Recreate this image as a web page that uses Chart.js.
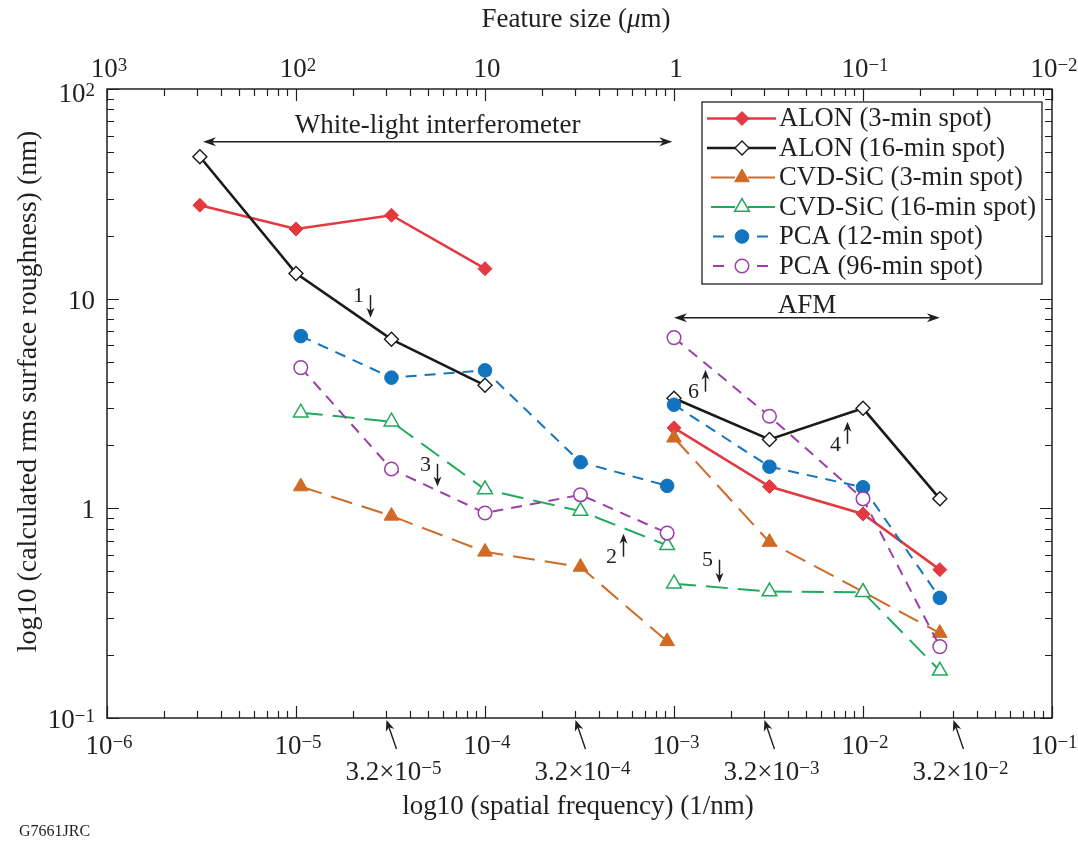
<!DOCTYPE html>
<html>
<head>
<meta charset="utf-8">
<title>RMS roughness vs spatial frequency</title>
<script src="https://cdn.jsdelivr.net/npm/chart.js@4/dist/chart.umd.min.js"></script>
<style>
  html, body { margin: 0; padding: 0; background: #fff; }
  #roughCanvas { display: block; }
</style>
</head>
<body>
<canvas id="roughCanvas" width="1078" height="842" style="width:1078px;height:842px"></canvas>
<script>
// spatial frequency (1/nm); a null splits the interferometer and AFM groups
const alonFreq  = [3.1e-6, 1.0e-5, 3.2e-5, 1.0e-4, null, 1.0e-3, 3.2e-3, 1.0e-2, 2.55e-2];
const alon3Rms  = [27.9, 21.5, 25.0, 13.9, null, 2.42, 1.27, 0.94, 0.51];
const alon16Rms = [47.5, 13.2, 6.4, 3.86, null, 3.35, 2.13, 3.0, 1.11];

const mixFreq   = [1.06e-5, 3.2e-5, 1.0e-4, 3.2e-4, 9.2e-4, null, 1.0e-3, 3.2e-3, 1.0e-2, 2.55e-2];
const sic3Rms   = [1.27, 0.92, 0.62, 0.525, 0.232, null, 2.17, 0.69, 0.40, 0.254];
const sic16Rms  = [2.86, 2.59, 1.23, 0.97, 0.666, null, 0.437, 0.401, 0.398, 0.168];
const pca12Rms  = [6.63, 4.2, 4.55, 1.66, 1.28, null, 3.12, 1.58, 1.26, 0.374];
const pca96Rms  = [4.69, 1.54, 0.95, 1.16, 0.762, null, 6.52, 2.75, 1.11, 0.219];

// axis labels: [mantissa, superscript]
const freqLabels    = [['10', '\u22126'], ['10', '\u22125'], ['10', '\u22124'], ['10', '\u22123'], ['10', '\u22122'], ['10', '\u22121']];
const freqLabelVals = [1e-6, 1e-5, 1e-4, 1e-3, 1e-2, 1e-1];
const featureLabels = [['10', '3'], ['10', '2'], ['10', ''], ['1', ''], ['10', '\u22121'], ['10', '\u22122']];
const rmsLabels     = [['10', '\u22121'], ['1', ''], ['10', ''], ['10', '2']];
const rmsLabelVals  = [0.1, 1, 10, 100];

// half-decade markers below the frequency axis
const markedFreqs  = [3.2e-5, 3.2e-4, 3.2e-3, 3.2e-2];
const markedLabels = [['3.2\u00d710', '\u22125'], ['3.2\u00d710', '\u22124'], ['3.2\u00d710', '\u22123'], ['3.2\u00d710', '\u22122']];

// instrument ranges (double arrows)
const rangeNames = ['White-light interferometer', 'AFM'];
const rangeFrom  = [3.22e-6, 1.0e-3];
const rangeTo    = [9.8e-4, 2.55e-2];
const rangeRms   = [56, 8.1];

// numbered pointers: frequency, tail and tip roughness
const noteNums  = ['1', '2', '3', '4', '5', '6'];
const noteFreq  = [2.46e-5, 5.37e-4, 5.57e-5, 8.22e-3, 1.73e-3, 1.46e-3];
const noteTail  = [10.4, 0.588, 1.63, 2.03, 0.569, 3.60];
const noteTip   = [8.11, 0.757, 1.27, 2.59, 0.442, 4.58];

const INK = '#231f20';
const SERIF = '"Liberation Serif", "DejaVu Serif", serif';
const FONT = '27px ' + SERIF;
const LEGENDFONT = '26.6px ' + SERIF;
const TICKFONT = '27px ' + SERIF;
const SUP = '19px ' + SERIF;

function series(label, freq, rms, style) {
  return Object.assign({
    label: label,
    data: freq.map((f, i) => ({ x: f, y: rms[i] })),
    spanGaps: false,
    fill: false,
    tension: 0
  }, style);
}

const datasets = [
  series('ALON (3-min spot)', alonFreq, alon3Rms, {
    borderColor: '#e23a40', borderWidth: 2.6, pointStyle: 'rectRot', pointRadius: 7,
    pointBackgroundColor: '#e23a40', pointBorderColor: '#e23a40', pointBorderWidth: 1
  }),
  series('ALON (16-min spot)', alonFreq, alon16Rms, {
    borderColor: '#1a1a1a', borderWidth: 2.6, pointStyle: 'rectRot', pointRadius: 7,
    pointBackgroundColor: '#ffffff', pointBorderColor: '#1a1a1a', pointBorderWidth: 1.4
  }),
  series('CVD-SiC (3-min spot)', mixFreq, sic3Rms, {
    borderColor: '#cf6b25', borderWidth: 2, borderDash: [22, 10], pointStyle: 'triangle', pointRadius: 8.5,
    pointBackgroundColor: '#cf6b25', pointBorderColor: '#cf6b25', pointBorderWidth: 1
  }),
  series('CVD-SiC (16-min spot)', mixFreq, sic16Rms, {
    borderColor: '#22a95b', borderWidth: 2, borderDash: [22, 10], pointStyle: 'triangle', pointRadius: 8.5,
    pointBackgroundColor: '#ffffff', pointBorderColor: '#22a95b', pointBorderWidth: 1.5
  }),
  series('PCA (12-min spot)', mixFreq, pca12Rms, {
    borderColor: '#1274bf', borderWidth: 2, borderDash: [11, 8], pointStyle: 'circle', pointRadius: 6.8,
    pointBackgroundColor: '#1274bf', pointBorderColor: '#1274bf', pointBorderWidth: 1
  }),
  series('PCA (96-min spot)', mixFreq, pca96Rms, {
    borderColor: '#9a3fa6', borderWidth: 2, borderDash: [11, 8], pointStyle: 'circle', pointRadius: 6.8,
    pointBackgroundColor: '#ffffff', pointBorderColor: '#9a3fa6', pointBorderWidth: 1.5
  })
];
// later series sit on top
datasets.forEach((d, i) => { d.order = datasets.length - i; });

// legend sample segments around the marker
const legendSegs = [
  [[-35, 34]], [[-35, 34]],
  [[-31, -7], [6, 33]], [[-31, -7], [6, 33]],
  [[-29, -18], [15, 26]], [[-29, -18], [15, 26]]
];

function logTicks(min, max) {
  const out = [];
  for (let e = Math.round(Math.log10(min)); e < Math.round(Math.log10(max)) + 1; e++) {
    for (let k = 1; k <= 9; k++) {
      const v = k * Math.pow(10, e);
      if (v < min * 0.9999 || v > max * 1.0001) continue;
      out.push({ v: v, major: k === 1 });
    }
  }
  return out;
}

// mantissa + superscript, cy is the mantissa baseline
function drawPower(ctx, pair, cx, cy, align, font, sup, lift) {
  ctx.font = font;
  const wb = ctx.measureText(pair[0]).width;
  ctx.font = sup;
  const we = pair[1] ? ctx.measureText(pair[1]).width : 0;
  const total = wb + we;
  const left = align === 'right' ? cx - total : (align === 'left' ? cx : cx - total / 2);
  ctx.textAlign = 'left';
  ctx.textBaseline = 'alphabetic';
  ctx.font = font;
  ctx.fillText(pair[0], left, cy);
  if (pair[1]) {
    ctx.font = sup;
    ctx.fillText(pair[1], left + wb, cy - lift);
  }
}

function arrowHead(ctx, x1, y1, x2, y2, len, half) {
  const ang = Math.atan2(y2 - y1, x2 - x1);
  const c = Math.cos(ang), s = Math.sin(ang);
  ctx.beginPath();
  ctx.moveTo(x2, y2);
  ctx.lineTo(x2 - len * c + half * s, y2 - len * s - half * c);
  ctx.lineTo(x2 - len * 0.7 * c, y2 - len * 0.7 * s);
  ctx.lineTo(x2 - len * c - half * s, y2 - len * s + half * c);
  ctx.closePath();
  ctx.fill();
}

function arrow(ctx, x1, y1, x2, y2, len, half, both) {
  const ang = Math.atan2(y2 - y1, x2 - x1);
  ctx.beginPath();
  ctx.moveTo(both ? x1 + Math.cos(ang) * len * 0.6 : x1, both ? y1 + Math.sin(ang) * len * 0.6 : y1);
  ctx.lineTo(x2 - Math.cos(ang) * len * 0.6, y2 - Math.sin(ang) * len * 0.6);
  ctx.stroke();
  arrowHead(ctx, x1, y1, x2, y2, len, half);
  if (both) arrowHead(ctx, x2, y2, x1, y1, len, half);
}

const figureDecor = {
  id: 'figureDecor',
  afterDraw(chart) {
    const ctx = chart.ctx;
    const a = chart.chartArea;
    const xs = chart.scales.x, ys = chart.scales.y;
    ctx.save();
    ctx.strokeStyle = INK;
    ctx.fillStyle = INK;

    // frame
    ctx.lineWidth = 1.5;
    ctx.strokeRect(a.left, a.top, a.right - a.left, a.bottom - a.top);

    // inward ticks on all four sides
    ctx.lineWidth = 1.2;
    ctx.beginPath();
    logTicks(xs.min, xs.max).forEach(t => {
      const px = Math.round(xs.getPixelForValue(t.v)) + 0.5;
      const len = t.major ? 12 : 7;
      ctx.moveTo(px, a.bottom); ctx.lineTo(px, a.bottom - len);
      ctx.moveTo(px, a.top); ctx.lineTo(px, a.top + len);
    });
    logTicks(ys.min, ys.max).forEach(t => {
      const py = Math.round(ys.getPixelForValue(t.v)) + 0.5;
      const len = t.major ? 12 : 7;
      ctx.moveTo(a.left, py); ctx.lineTo(a.left + len, py);
      ctx.moveTo(a.right, py); ctx.lineTo(a.right - len, py);
    });
    ctx.stroke();

    // tick labels
    freqLabels.forEach((p, i) => {
      const px = xs.getPixelForValue(freqLabelVals[i]);
      drawPower(ctx, p, px + 2, a.bottom + 36, 'center', TICKFONT, SUP, 6);
      drawPower(ctx, featureLabels[i], px + 2, a.top - 12, 'center', TICKFONT, SUP, 6);
    });
    rmsLabels.forEach((p, i) => {
      const py = ys.getPixelForValue(rmsLabelVals[i]);
      drawPower(ctx, p, a.left - 12, py + (i === rmsLabels.length - 1 ? 13 : 10), 'right', TICKFONT, SUP, 6);
    });

    // half-decade pointers under the axis
    ctx.lineWidth = 1.4;
    markedFreqs.forEach((f, i) => {
      const px = xs.getPixelForValue(f);
      arrow(ctx, px + 5, a.bottom + 31, px - 5, a.bottom + 2, 11, 4.5, false);
      drawPower(ctx, markedLabels[i], px + 2, a.bottom + 62, 'center', TICKFONT, SUP, 6);
    });

    // instrument ranges
    rangeNames.forEach((name, i) => {
      const x1 = xs.getPixelForValue(rangeFrom[i]);
      const x2 = xs.getPixelForValue(rangeTo[i]);
      const py = ys.getPixelForValue(rangeRms[i]);
      ctx.lineWidth = 1.5;
      arrow(ctx, x1, py, x2, py, 13, 4.5, true);
      ctx.font = FONT;
      ctx.textAlign = 'center';
      ctx.textBaseline = 'alphabetic';
      ctx.fillText(name, (x1 + x2) / 2, py - (i === 0 ? 9 : 5));
    });

    // numbered pointers
    noteNums.forEach((n, i) => {
      const px = Math.round(xs.getPixelForValue(noteFreq[i])) + 0.5;
      const tail = ys.getPixelForValue(noteTail[i]);
      const tip = ys.getPixelForValue(noteTip[i]);
      ctx.lineWidth = 1.5;
      arrow(ctx, px, tail, px, tip, 10, 4, false);
      ctx.font = '22px ' + SERIF;
      ctx.textAlign = 'center';
      ctx.textBaseline = 'middle';
      ctx.fillText(n, px - 12, tail + 1);
    });

    // axis titles
    ctx.font = FONT;
    ctx.textAlign = 'center';
    ctx.textBaseline = 'alphabetic';
    ctx.fillText('log10 (spatial frequency) (1/nm)', 578, 814);
    ctx.save();
    ctx.translate(36, (a.top + a.bottom) / 2 - 12);
    ctx.rotate(-Math.PI / 2);
    ctx.font = '28px ' + SERIF;
    ctx.fillText('log10 (calculated rms surface roughness) (nm)', 0, 0);
    ctx.restore();

    // top title with italic mu
    const parts = [['Feature size (', FONT], ['\u03bc', 'italic ' + FONT], ['m)', FONT]];
    let tw = 0;
    parts.forEach(p => { ctx.font = p[1]; tw += ctx.measureText(p[0]).width; });
    let tx = 576 - tw / 2;
    ctx.textAlign = 'left';
    parts.forEach(p => { ctx.font = p[1]; ctx.fillText(p[0], tx, 27); tx += ctx.measureText(p[0]).width; });

    ctx.font = '16px ' + SERIF;
    ctx.fillText('G7661JRC', 19, 836);

    // legend
    const bx = 702, by = 102, bw = 340, bh = 182;
    ctx.fillStyle = '#ffffff';
    ctx.fillRect(bx, by, bw, bh);
    ctx.lineWidth = 1.3;
    ctx.strokeStyle = INK;
    ctx.strokeRect(bx, by, bw, bh);
    chart.data.datasets.forEach((d, i) => {
      const cy = by + 16.5 + i * 29.5;
      const mx = bx + 40;
      ctx.strokeStyle = d.borderColor;
      ctx.lineWidth = d.borderWidth;
      ctx.setLineDash([]);
      ctx.beginPath();
      legendSegs[i].forEach(s => { ctx.moveTo(mx + s[0], cy); ctx.lineTo(mx + s[1], cy); });
      ctx.stroke();
      ctx.fillStyle = d.pointBackgroundColor;
      ctx.strokeStyle = d.pointBorderColor;
      ctx.lineWidth = d.pointBorderWidth;
      Chart.helpers.drawPoint(ctx, { pointStyle: d.pointStyle, radius: d.pointRadius, rotation: 0, borderWidth: d.pointBorderWidth }, mx, cy);
      ctx.fillStyle = INK;
      ctx.font = LEGENDFONT;
      ctx.textAlign = 'left';
      ctx.textBaseline = 'middle';
      ctx.fillText(d.label, bx + 77, cy + 1);
    });
    ctx.restore();
  }
};

const chart = new Chart(document.getElementById('roughCanvas'), {
  type: 'line',
  data: { datasets: datasets },
  options: {
    responsive: false,
    animation: false,
    layout: { padding: { left: 107, right: 26, top: 89, bottom: 124 } },
    scales: {
      x: { type: 'logarithmic', min: 1e-6, max: 1e-1, display: false },
      y: { type: 'logarithmic', min: 0.1, max: 100, display: false }
    },
    plugins: { legend: { display: false }, tooltip: { enabled: false } }
  },
  plugins: [figureDecor]
});
</script>
</body>
</html>
